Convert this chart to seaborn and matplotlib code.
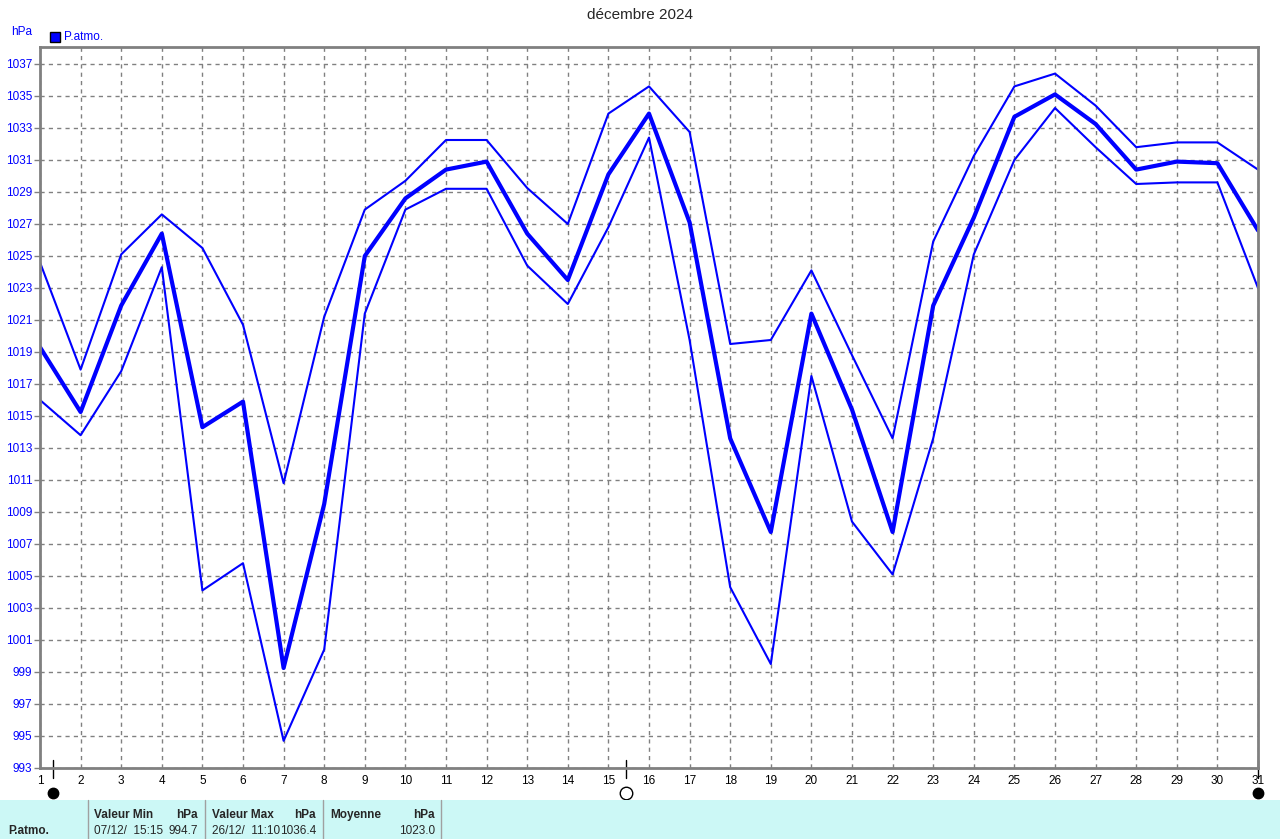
import pandas as pd
import matplotlib.pyplot as plt
import seaborn as sns
from matplotlib.patches import Rectangle
from matplotlib.lines import Line2D

# -------------------------
# 1. Daten
# -------------------------
jours = list(range(1, 32))

p_max = [1024.6, 1017.9, 1025.1, 1027.6, 1025.5, 1020.7, 1010.8, 1021.2, 1027.9, 1029.7,
         1032.25, 1032.25, 1029.25, 1027.0, 1033.9, 1035.6, 1032.75, 1019.5, 1019.75, 1024.1,
         1018.8, 1013.6, 1025.9, 1031.25, 1035.6, 1036.4, 1034.4, 1031.8, 1032.1, 1032.1,
         1030.4]

p_moy = [1019.3, 1015.25, 1021.9, 1026.4, 1014.3, 1015.9, 999.25, 1009.5, 1025.0, 1028.6,
         1030.4, 1030.9, 1026.4, 1023.5, 1030.1, 1033.9, 1027.1, 1013.6, 1007.75, 1021.4,
         1015.4, 1007.75, 1021.9, 1027.4, 1033.7, 1035.1, 1033.25, 1030.4, 1030.9, 1030.8,
         1026.6]

p_min = [1016.0, 1013.8, 1017.8, 1024.3, 1004.1, 1005.8, 994.7, 1000.4, 1021.4, 1027.9,
         1029.2, 1029.2, 1024.4, 1022.0, 1026.8, 1032.4, 1019.75, 1004.3, 999.5, 1017.5,
         1008.4, 1005.1, 1013.6, 1025.1, 1031.0, 1034.25, 1031.8, 1029.5, 1029.6, 1029.6,
         1023.0]

# phases de la lune (jour décimal)
lune_jours = [1.32, 15.43, 31.0]
lune_types = ['nouvelle', 'pleine', 'nouvelle']

y_ticks = list(range(993, 1038, 2))

df = pd.DataFrame({'jour': jours, 'max': p_max, 'moy': p_moy, 'min': p_min})

# -------------------------
# 2. Design
# -------------------------
sns.set_theme(style="white")
plt.rcParams['font.family'] = ['Liberation Sans', 'DejaVu Sans']

bleu = '#0000ff'
gris = '#808080'

fig = plt.figure(figsize=(12.8, 8.39), dpi=100)
W, H = 1280, 839
ax = fig.add_axes([40 / W, 71 / H, 1218 / W, 721 / H])

# -------------------------
# 3. Diagramme
# -------------------------
sns.lineplot(data=df, x='jour', y='max', ax=ax, color=bleu, linewidth=1.5)
sns.lineplot(data=df, x='jour', y='min', ax=ax, color=bleu, linewidth=1.5)
sns.lineplot(data=df, x='jour', y='moy', ax=ax, color=bleu, linewidth=3.0)

ax.set_xlim(1, 31)
ax.set_ylim(993, 993 + 721 / 16)
ax.set_xticks(jours)
ax.set_yticks(y_ticks)
ax.set_xlabel('')
ax.set_ylabel('')
ax.grid(True, color=gris, linestyle=(0, (3, 3)), linewidth=1)
ax.set_axisbelow(True)
for s in ax.spines.values():
    s.set_color(gris)
    s.set_linewidth(2)

ax.tick_params(axis='y', labelsize=8.5, labelcolor=bleu, color=gris,
               length=4, width=1, pad=1.5, left=True)
ax.tick_params(axis='x', labelsize=8.5, labelcolor='black', length=0, pad=5)

# lune
tr = ax.get_xaxis_transform()
for j, t in zip(lune_jours, lune_types):
    ax.plot([j, j], [8 / 721, -10 / 721], color='black', linewidth=1,
            transform=tr, clip_on=False)
    if t == 'nouvelle':
        ax.plot(j, -25 / 721, marker='o', markersize=7.5, color='black',
                transform=tr, clip_on=False)
    else:
        ax.plot(j, -25 / 721, marker='o', markersize=9, markerfacecolor='white',
                markeredgecolor='black', markeredgewidth=1, transform=tr, clip_on=False)

# -------------------------
# 4. Textes
# -------------------------
fig.text(0.5, 1 - 15 / H, 'décembre 2024', ha='center', va='center', fontsize=11)
fig.text(11 / W, 1 - 32 / H, 'hPa', ha='left', va='center', fontsize=8.5, color=bleu)
fig.patches.append(Rectangle((50 / W, 1 - 42 / H), 10 / W, 10 / H, transform=fig.transFigure,
                             facecolor=bleu, edgecolor='black', linewidth=1))
fig.text(64 / W, 1 - 37 / H, 'P.atmo.', ha='left', va='center', fontsize=8.5, color=bleu)

# tableau du bas
fig.patches.append(Rectangle((0, 0), 1, 39 / H, transform=fig.transFigure,
                             facecolor='#ccf8f6', edgecolor='none'))
for x in [88, 205, 323, 441]:
    fig.add_artist(Line2D([x / W, x / W], [0, 39 / H], color='#a0a0a0', linewidth=1))

y1 = 1 - 815 / H
y2 = 1 - 831 / H
fs = 8.5
fig.text(94 / W, y1, 'Valeur Min', fontsize=fs, fontweight='bold', va='center')
fig.text(198 / W, y1, 'hPa', fontsize=fs, fontweight='bold', va='center', ha='right')
fig.text(212 / W, y1, 'Valeur Max', fontsize=fs, fontweight='bold', va='center')
fig.text(316 / W, y1, 'hPa', fontsize=fs, fontweight='bold', va='center', ha='right')
fig.text(330 / W, y1, 'Moyenne', fontsize=fs, fontweight='bold', va='center')
fig.text(435 / W, y1, 'hPa', fontsize=fs, fontweight='bold', va='center', ha='right')

fig.text(8 / W, y2, 'P.atmo.', fontsize=fs, fontweight='bold', va='center')
fig.text(94 / W, y2, '07/12/  15:15', fontsize=fs, va='center')
fig.text(198 / W, y2, '994.7', fontsize=fs, va='center', ha='right')
fig.text(212 / W, y2, '26/12/  11:10', fontsize=fs, va='center')
fig.text(316 / W, y2, '1036.4', fontsize=fs, va='center', ha='right')
fig.text(435 / W, y2, '1023.0', fontsize=fs, va='center', ha='right')

# -------------------------
# 5. Speichern
# -------------------------
plt.savefig('out.png', dpi=100)
